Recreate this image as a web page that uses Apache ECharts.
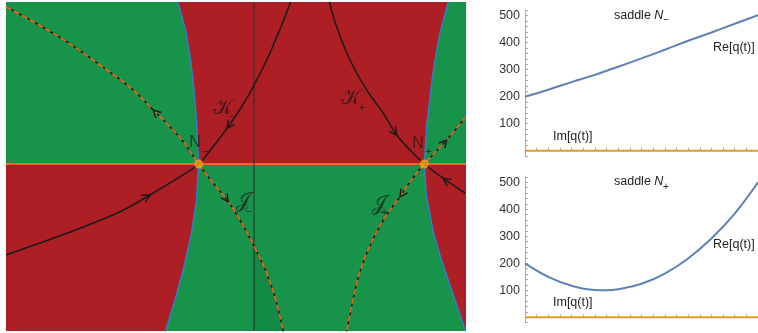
<!DOCTYPE html>
<html><head><meta charset="utf-8">
<script src="https://cdn.jsdelivr.net/npm/echarts@6/dist/echarts.min.js"></script>
<style>html,body{margin:0;padding:0;background:#fff}#c{width:758px;height:333px}</style>
</head><body><div id="c"></div>
<script>
// ---- Left panel: complex plane (arbitrary units) ----
const jMinus = [[-24.8,15.73],[-22.07,14.23],[-18.73,12.23],[-15.4,9.9],[-12.07,7.4],[-10.07,5.4],[-8.73,4.07],[-7.07,2.23],[-5.53,0],[-4.07,-1.93],[-2.57,-3.77],[-1.4,-5.6],[0.03,-8.27],[1.27,-10.93],[2.27,-13.93],[2.93,-16.77]];
const kMinus = [[-24.8,-9.1],[-18.73,-6.93],[-13.73,-4.93],[-10.4,-3.1],[-7.4,-1.27],[-5.53,0],[-4.09,1.73],[-2.69,3.57],[-1.45,5.4],[-0.16,7.57],[1.42,10.73],[2.7,13.73],[3.66,16.23]];
const kPlus = [[7.53,16.23],[8.27,13.73],[9.6,10.4],[11.27,7.4],[12.93,5.07],[14.27,2.9],[15.6,1.4],[17.03,0],[18.93,-1.43],[21.17,-2.93]];
const jPlus = [[21.17,4.73],[19.27,2.4],[17.03,0],[15.6,-1.77],[14.6,-3.27],[12.93,-5.6],[11.27,-8.93],[10.27,-11.93],[9.27,-16.77]];
const blueLeft = [[-7.63,16.23],[-6.85,13.4],[-6.35,10.4],[-6.05,7.9],[-5.75,4.4],[-5.53,0],[-5.75,-3.6],[-6.25,-6.93],[-6.99,-10.27],[-7.89,-13.6],[-8.87,-16.77]];
const blueRight = [[19.43,16.23],[18.6,13.07],[18.1,10.4],[17.77,8.07],[17.27,3.73],[17.03,0],[17.22,-3.1],[17.95,-6.93],[18.64,-9.27],[19.42,-11.6],[20.27,-14.1],[21.15,-16.7]];
const saddles = [[-5.53,0],[17.03,0]];
// arrows: [x, y, dirX, dirY]
const arrows = [[-10.07,5.4,-1,1],[-2.57,-3.77,2.67,-3.67],[-2.69,3.57,-2.6,-3.67],[-10.4,-3.1,6.33,3.66],[14.27,2.9,2.67,-3.67],[18.93,-1.43,-4.14,2.93],[19.27,2.4,4.14,4.73],[14.6,-3.27,-2.67,-3.83]];
const mainLabels = [[-5.9,2.1,'N'],[16.4,2.0,'N'],[-3.15,5.5,'𝒦'],[9.68,6.5,'𝒦'],[-1.07,-3.77,'𝒥'],[12.5,-4.1,'𝒥']];
const subLabels = [[-4.85,1.2,'−'],[17.45,1.25,'+'],[-2.2,4.75,'−'],[10.8,5.6,'+'],[-0.55,-4.75,'−'],[13.1,-4.9,'+']];

// ---- Right panels: q(t) along the two saddles ----
const tVals = [0,0.1,0.2,0.3,0.35,0.4,0.5,0.6,0.7,0.8,0.9,1.0];
const reTop = [200,226,254,281,296,311,342,374,407,438,470,502];
const imTop = [0,0,0,0,0,0,0,0,0,0,0,0];
const reBottom = [200,150,117,101,100,104,124,162,218,292,384,500];
const imBottom = [0,0,0,0,0,0,0,0,0,0,0,0];
const yTickLabels = [100,200,300,400,500];

const X0=-24.8, X1=21.2, Y0=-16.7, Y1=16.2;
const GREEN='#17944a', RED='#ae1f25', DKGREEN='#128a45';
const iN = blueLeft.findIndex(p=>p[1]===0), iP = blueRight.findIndex(p=>p[1]===0);
const regions = [
  {color:RED, pts: blueLeft.slice(0,iN+1).concat(blueRight.slice(0,iP+1).reverse())},
  {color:RED, pts: [[X0,0]].concat(blueLeft.slice(iN)).concat([[X0,blueLeft[blueLeft.length-1][1]]])},
  {color:RED, pts: blueRight.slice(iP).concat([[X1+1,blueRight[blueRight.length-1][1]],[X1+1,0]])},
  {color:DKGREEN, pts: jMinus.filter(p=>p[0]>=0).concat([[0,jMinus[jMinus.length-1][1]]])}
];

const chart = echarts.init(document.getElementById('c'), null, {renderer:'canvas'});
const pair = (xs, ys) => xs.map((x,i)=>[x, ys[i]]);
const FONT = 'Liberation Sans, Arial, sans-serif';

function rightX(gi){return {type:'value', gridIndex:gi, min:0, max:1, interval:0.05,
  axisLine:{onZero:true, lineStyle:{color:'#a6a6a6', width:1}},
  axisTick:{show:true, inside:true, length:3, lineStyle:{color:'#a6a6a6'}},
  axisLabel:{show:false}, splitLine:{show:false}};}
function rightY(gi){return {type:'value', gridIndex:gi, min:-20, max:520, interval:20,
  axisLine:{show:true, onZero:true, lineStyle:{color:'#a6a6a6', width:1}},
  axisTick:{show:true, inside:true, length:3, lineStyle:{color:'#a6a6a6'}},
  axisLabel:{interval:0, margin:5, color:'#333', fontSize:12.5, fontFamily:FONT,
    formatter:v=> yTickLabels.indexOf(v)>=0 ? String(v) : ''},
  splitLine:{show:false}};}

const labelSeries = (arr, size, font) => ({type:'scatter', xAxisIndex:0, yAxisIndex:0, symbolSize:0, z:20,
  data: arr.map(a=>({value:[a[0],a[1]], name:a[2]})),
  label:{show:true, position:'inside', formatter:'{b}', color:'rgba(25,25,25,0.92)', fontSize:size, fontFamily:font},
  emphasis:{disabled:true}, silent:true});

const txt = (left, top, text, extra) => ({type:'text', left, top, silent:true,
  style:Object.assign({text, fill:'#222', fontSize:12.5, fontFamily:FONT}, extra||{})});

const option = {
  animation:false,
  grid:[
    {left:6, top:2, width:460, height:329, show:true, backgroundColor:GREEN, borderWidth:0},
    {left:525, top:10.3, width:233, height:145.8},
    {left:525, top:176.9, width:233, height:145.8}
  ],
  xAxis:[{type:'value', gridIndex:0, min:X0, max:X1, show:false}, rightX(1), rightX(2)],
  yAxis:[{type:'value', gridIndex:0, min:Y0, max:Y1, show:false}, rightY(1), rightY(2)],
  series:[
    {type:'custom', xAxisIndex:0, yAxisIndex:0, clip:true, z:1, silent:true,
      data: regions.map(()=>[0,0]),
      renderItem:(params, api)=>{const r=regions[params.dataIndex];
        return {type:'polygon', shape:{points:r.pts.map(p=>api.coord(p))}, style:{fill:r.color}};}},
    {type:'line', xAxisIndex:0, yAxisIndex:0, data:[[X0,0],[X1,0]], symbol:'none', z:3,
      lineStyle:{color:'#f2652a', width:2}},
    {type:'line', xAxisIndex:0, yAxisIndex:0, data:[[0,Y0],[0,Y1]], symbol:'none', z:3,
      lineStyle:{color:'#2b2b2b', width:1}},
    {type:'line', xAxisIndex:0, yAxisIndex:0, data:blueLeft, symbol:'none', smooth:false, z:4,
      lineStyle:{color:'#2f7fc4', width:1.6}},
    {type:'line', xAxisIndex:0, yAxisIndex:0, data:blueRight, symbol:'none', smooth:false, z:4,
      lineStyle:{color:'#2f7fc4', width:1.6}},
    ...[jMinus,kMinus,kPlus,jPlus].map(d=>({type:'line', xAxisIndex:0, yAxisIndex:0, data:d, symbol:'none', smooth:0.35, z:5,
      lineStyle:{color:'#1a1a1a', width:1.5}})),
    ...[jMinus,jPlus].map(d=>({type:'line', xAxisIndex:0, yAxisIndex:0, data:d, symbol:'none', smooth:0.35, z:6,
      lineStyle:{color:'#f26b21', width:1.6, type:[6,3]}})),
    {type:'custom', xAxisIndex:0, yAxisIndex:0, z:7, silent:true, data:arrows, encode:{x:0,y:1},
      renderItem:(params, api)=>{
        const p=api.coord([api.value(0),api.value(1)]);
        const q=api.coord([api.value(0)+api.value(2),api.value(1)+api.value(3)]);
        let dx=q[0]-p[0], dy=q[1]-p[1]; const L=Math.hypot(dx,dy); dx/=L; dy/=L;
        const len=7.5, w=4, bx=p[0]-dx*len, by=p[1]-dy*len;
        return {type:'polyline', shape:{points:[[bx-dy*w,by+dx*w],p,[bx+dy*w,by-dx*w]]},
          style:{stroke:'#1a1a1a', lineWidth:1.4, fill:null}};
      }},
    {type:'scatter', xAxisIndex:0, yAxisIndex:0, data:saddles, symbolSize:9, z:8,
      itemStyle:{color:'#f7a21b'}, silent:true},
    labelSeries(mainLabels.filter(a=>a[2]==='N'), 16, FONT),
    labelSeries(mainLabels.filter(a=>a[2]!=='N'), 21, 'DejaVu Sans, DejaVu Serif, serif'),
    labelSeries(subLabels, 11, FONT),
    // right panels
    {type:'line', xAxisIndex:1, yAxisIndex:1, data:pair(tVals, imTop), symbol:'none', z:3,
      lineStyle:{color:'#e19c24', width:2}},
    {type:'line', xAxisIndex:1, yAxisIndex:1, data:pair(tVals, reTop), symbol:'none', smooth:0.4, z:4,
      lineStyle:{color:'#5e81b5', width:2}},
    {type:'line', xAxisIndex:2, yAxisIndex:2, data:pair(tVals, imBottom), symbol:'none', z:3,
      lineStyle:{color:'#e19c24', width:2}},
    {type:'line', xAxisIndex:2, yAxisIndex:2, data:pair(tVals, reBottom), symbol:'none', smooth:0.4, z:4,
      lineStyle:{color:'#5e81b5', width:2}}
  ],
  graphic:[
    txt(614, 9, '{a|saddle }{n|N}', {rich:{a:{fontSize:12.5, fontFamily:FONT}, n:{fontSize:12.5, fontFamily:FONT, fontStyle:'italic'}}}),
    txt(663.5, 15, '−', {fontSize:10}),
    txt(614, 175.3, '{a|saddle }{n|N}', {rich:{a:{fontSize:12.5, fontFamily:FONT}, n:{fontSize:12.5, fontFamily:FONT, fontStyle:'italic'}}}),
    txt(663, 182, '+', {fontSize:10}),
    txt(713, 41, 'Re[q(t)]'),
    txt(553, 130, 'Im[q(t)]'),
    txt(713, 238, 'Re[q(t)]'),
    txt(553, 296, 'Im[q(t)]')
  ]
};
chart.setOption(option);
</script></body></html>
